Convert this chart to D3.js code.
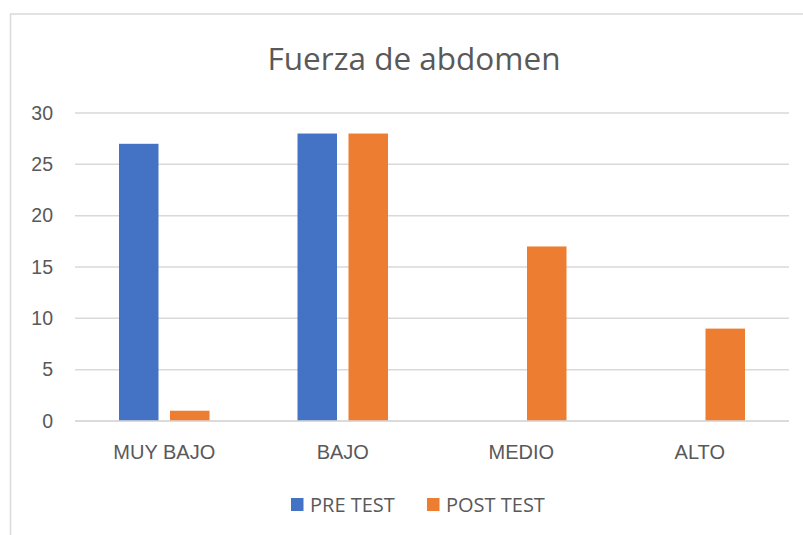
<!DOCTYPE html>
<html>
<head>
<meta charset="utf-8">
<script src="https://cdn.jsdelivr.net/npm/d3@7"></script>
<style>
  body { margin: 0; background: #fff; }
  text { font-family: "Open Sans", sans-serif; fill: #595959; }
</style>
</head>
<body>
<div id="chart"></div>
<script>
// data
let categories = ['MUY BAJO', 'BAJO', 'MEDIO', 'ALTO']
let seriesNames = ['PRE TEST', 'POST TEST']
let preTest = [27, 28, 0, 0]
let postTest = [1, 28, 17, 9]
let yTicks = [0, 5, 10, 15, 20, 25, 30]
let colors = ['#4472C4', '#ED7D31']

let W = 803
let H = 535
let margin = { top: 113, left: 75, right: 14, bottom: 114 }
let width = W - margin.left - margin.right
let height = H - margin.top - margin.bottom

let svg = d3.select('#chart')
  .append('svg')
  .attr('width', W)
  .attr('height', H)

// chart area frame (right and bottom edges fall outside the picture)
svg.append('rect')
  .attr('x', 10.5)
  .attr('y', 14)
  .attr('width', 800)
  .attr('height', 540)
  .attr('fill', 'none')
  .attr('stroke', '#D9D9D9')
  .attr('stroke-width', 1.5)

svg.append('text')
  .attr('x', 414)
  .attr('y', 70)
  .attr('text-anchor', 'middle')
  .attr('font-size', 31.5)
  .text('Fuerza de abdomen')

let g = svg.append('g')
  .attr('transform', `translate(${margin.left},${margin.top})`)

let x0 = d3.scaleBand().domain(categories).range([0, width])
  .paddingInner(0.493).paddingOuter(0.2465)
let x1 = d3.scaleBand().domain(seriesNames).range([0, x0.bandwidth()]).paddingInner(0.2255)
let y = d3.scaleLinear().domain([0, 30]).range([height, 0])

// gridlines
g.append('g')
  .selectAll('line')
  .data(yTicks)
  .enter()
  .append('line')
  .attr('x1', 0)
  .attr('x2', width)
  .attr('y1', d => y(d))
  .attr('y2', d => y(d))
  .attr('stroke', '#D9D9D9')
  .attr('stroke-width', 1.5)

let yAxis = d3.axisLeft(y).tickValues(yTicks).tickSize(0).tickPadding(22)
g.append('g')
  .attr('class', 'axis y-axis')
  .call(yAxis)
  .call(s => s.select('.domain').remove())
  .selectAll('text')
  .attr('font-size', 19.5)
  .attr('fill', '#595959')
  .style('font-family', 'inherit')

let rows = categories.map((c, i) => ({ cat: c, values: [preTest[i], postTest[i]] }))

g.selectAll('.group')
  .data(rows)
  .enter()
  .append('g')
  .attr('class', 'group')
  .attr('transform', d => `translate(${x0(d.cat)},0)`)
  .selectAll('rect')
  .data(d => d.values.map((v, i) => ({ name: seriesNames[i], value: v, color: colors[i] })))
  .enter()
  .append('rect')
  .attr('x', d => x1(d.name))
  .attr('width', x1.bandwidth())
  .attr('y', d => y(d.value))
  .attr('height', d => height - y(d.value))
  .attr('fill', d => d.color)

// zero line drawn on top
g.append('line')
  .attr('x1', 0)
  .attr('x2', width)
  .attr('y1', y(0))
  .attr('y2', y(0))
  .attr('stroke', '#D9D9D9')
  .attr('stroke-width', 1.5)

let xAxis = d3.axisBottom(x0).tickSize(0).tickPadding(24)
g.append('g')
  .attr('class', 'axis x-axis')
  .attr('transform', `translate(0,${height})`)
  .call(xAxis)
  .call(s => s.select('.domain').remove())
  .selectAll('text')
  .attr('font-size', 20)
  .attr('fill', '#595959')
  .style('font-family', 'inherit')

// legend
let legendX = [291, 427]
let legend = svg.selectAll('.legend')
  .data(seriesNames)
  .enter()
  .append('g')
  .attr('class', 'legend')
  .attr('transform', (d, i) => `translate(${legendX[i]},498)`)

legend.append('rect')
  .attr('width', 12.5)
  .attr('height', 13)
  .attr('fill', (d, i) => colors[i])

legend.append('text')
  .attr('x', 19)
  .attr('y', 13.7)
  .attr('font-size', 20)
  .text(d => d)
</script>
</body>
</html>
